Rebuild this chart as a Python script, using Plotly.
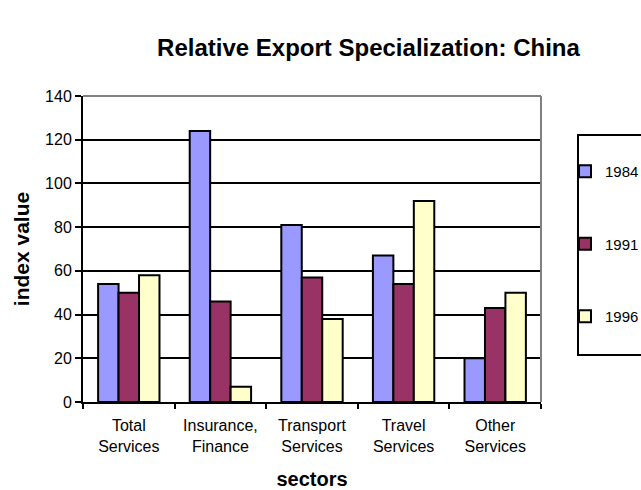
import plotly.graph_objects as go

# Sectors on the x axis (two-line labels) and the index values per year
sectors = ["Total<br>Services", "Insurance,<br>Finance", "Transport<br>Services",
           "Travel<br>Services", "Other<br>Services"]
years = ["1984", "1991", "1996"]
values_1984 = [54, 124, 81, 67, 20]
values_1991 = [50, 46, 57, 54, 43]
values_1996 = [58, 7, 38, 92, 50]
y_ticks = [0, 20, 40, 60, 80, 100, 120, 140]

series = [values_1984, values_1991, values_1996]
colors = ["#9999FF", "#993366", "#FFFFCC"]

FONT = "Liberation Sans, Arial, sans-serif"

fig = go.Figure()
for name, vals, col in zip(years, series, colors):
    fig.add_trace(go.Bar(
        x=sectors, y=vals, name=name, legendgroup=name,
        marker=dict(color=col, line=dict(color="black", width=2)),
    ))

W, H = 641, 490
L, R, T, B = 83, 100, 96, 88
pw = W - L - R
ph = H - T - B

fig.update_layout(
    width=W, height=H,
    margin=dict(l=L, r=R, t=T, b=B, autoexpand=False),
    paper_bgcolor="white", plot_bgcolor="white",
    font=dict(family=FONT, size=16, color="black"),
    barmode="group", bargap=0.33, bargroupgap=0,
    title=dict(text="<b>Relative Export Specialization: China</b>",
               x=368.5 / W, xanchor="center", y=1 - 48 / H, yanchor="middle",
               font=dict(size=24, family=FONT, color="black")),
    showlegend=True,
    legend=dict(x=(565 - L) / pw, xanchor="left",
                y=(H - B - 155) / ph, yanchor="top",
                bgcolor="rgba(0,0,0,0)", borderwidth=0,
                tracegroupgap=50,
                font=dict(size=15, family=FONT, color="black")),
)

fig.update_xaxes(
    type="category", tickson="boundaries", ticks="outside", ticklen=5,
    tickcolor="black", tickwidth=2, ticklabelstandoff=8,
    showline=True, linecolor="black", linewidth=2,
    showgrid=False,
    tickfont=dict(size=16),
    title=dict(text="<b>sectors</b>", font=dict(size=20), standoff=18),
)
fig.update_yaxes(
    range=[0, 140], tickvals=y_ticks, ticks="outside", ticklen=6,
    tickcolor="black", tickwidth=2,
    showline=True, linecolor="black", linewidth=2,
    showgrid=True, gridcolor="black", gridwidth=2,
    zeroline=False,
    tickfont=dict(size=16),
    title=dict(text="<b>index value</b>", font=dict(size=21), standoff=10),
)

# grey frame on the top and right of the plotting area
fig.add_shape(type="line", xref="paper", yref="paper", x0=0, x1=1, y0=1, y1=1,
              line=dict(color="#808080", width=2), layer="above")
fig.add_shape(type="line", xref="paper", yref="paper", x0=1, x1=1, y0=0, y1=1,
              line=dict(color="#808080", width=2), layer="above")

# legend frame
fig.add_shape(type="rect", xref="paper", yref="paper",
              x0=(578 - L) / pw, x1=(660 - L) / pw,
              y0=(H - B - 355) / ph, y1=(H - B - 135) / ph,
              line=dict(color="black", width=2), fillcolor="rgba(0,0,0,0)")

fig.write_html("out.html")
